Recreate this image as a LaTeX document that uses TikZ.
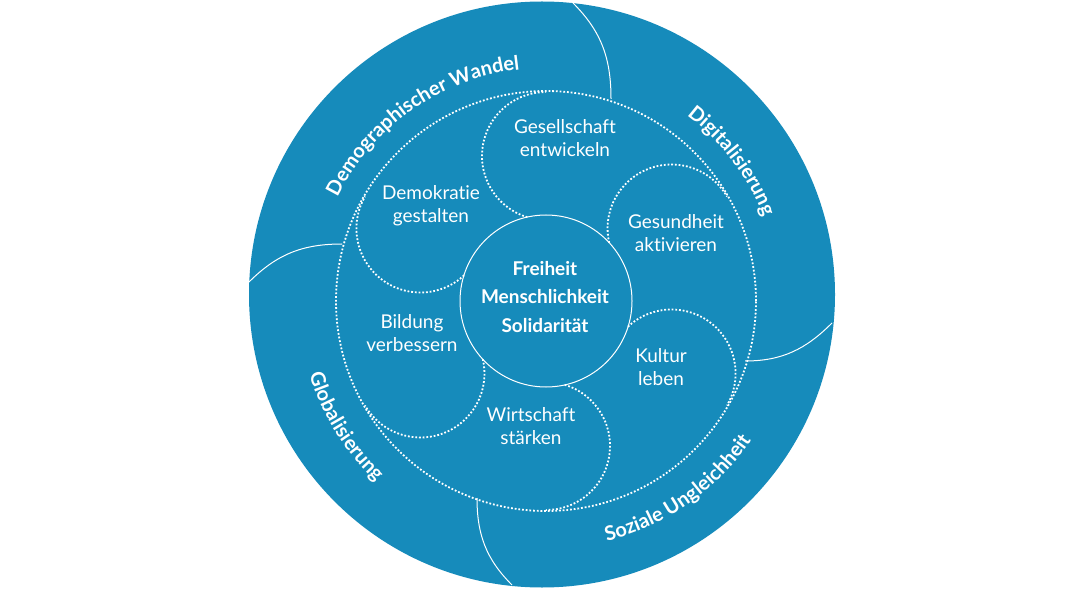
\documentclass[tikz,border=0pt]{standalone}
\usepackage{fontspec}
\setmainfont{Lato}[Ligatures=NoCommon]
\usetikzlibrary{decorations.text,calc}
\definecolor{ringblue}{RGB}{22,139,187}
\newcommand\petalfont{\fontsize{19}{23}\selectfont}
\newcommand\corefont{\fontsize{19}{28.5}\selectfont\bfseries}
\newcommand\ringfont{\fontsize{20}{20}\selectfont\bfseries}
\begin{document}
\begin{tikzpicture}[x=1pt,y=1pt,
  dots/.style={draw=white, line width=1.8pt, dash pattern=on 1.8pt off 1.9pt},
  seam/.style={draw=white, line width=1pt},
  petal/.style={text=white, align=center, font=\petalfont, inner sep=0pt},
  corecircle/.style={circle, draw=white, line width=1pt, minimum size=172pt, inner sep=0pt},
  coretext/.style={text=white, align=center, font=\corefont, inner sep=0pt},
  ringtext/.style={decorate, decoration={text along path, text={|\ringfont|#1}, text align=center, text color=white}}]
\useasboundingbox (0,0) rectangle (1084,590);
\coordinate (D) at (542,295.5);
\coordinate (C) at (546,289);
\fill[ringblue] (D) circle[radius=293];
% seams of the outer ring
\coordinate (s1a) at (611,491); \coordinate (s1b) at (573,587);
\coordinate (s2a) at (745,229); \coordinate (s2b) at (832,267);
\coordinate (s3a) at (477,92);  \coordinate (s3b) at (512,5);
\coordinate (s4a) at (342,346); \coordinate (s4b) at (249,308);
\draw[seam] (s1a) to[out=90,in=-45] (s1b);
\draw[seam] (s2a) to[out=0,in=-135] (s2b);
\draw[seam] (s3a) to[out=-90,in=135] (s3b);
\draw[seam] (s4a) to[out=180,in=45] (s4b);
% dotted outer loop and petals
\draw[dots] (C) circle[radius=210];
\foreach \t in {90,30,-30,-90,-150,150} {
  \draw[dots] ($(C)+({\t}:145)+({\t+163}:64)$) arc[start angle=\t+163, end angle=\t, radius=64];
}
% centre
\node[corecircle] (core) at (C) {};
\node[coretext] (coretxt) at (545,293) {Freiheit\\Menschlichkeit\\Solidarität};
% petal labels
\node[petal] (ges) at (565,452) {Gesellschaft\\entwickeln};
\node[petal] (gesu) at (676,357) {Gesundheit\\aktivieren};
\node[petal] (kul) at (661,223) {Kultur\\leben};
\node[petal] (wir) at (531,164) {Wirtschaft\\stärken};
\node[petal] (bil) at (412,257) {Bildung\\verbessern};
\node[petal] (dem) at (431,384) {Demokratie\\gestalten};
% ring labels
\path[ringtext={Demographischer Wandel}] ($(C)+(185:233)$) arc[start angle=185, end angle=65, radius=233];
\path[ringtext={Digitalisierung}] ($(C)+(97:233)$) arc[start angle=97, end angle=-23, radius=233];
\path[ringtext={Globalisierung}] ($(C)+(152:248)$) arc[start angle=152, end angle=272, radius=248];
\path[ringtext={Soziale Ungleichheit}] ($(C)+(-115:248)$) arc[start angle=-115, end angle=5, radius=248];
\end{tikzpicture}
\end{document}
